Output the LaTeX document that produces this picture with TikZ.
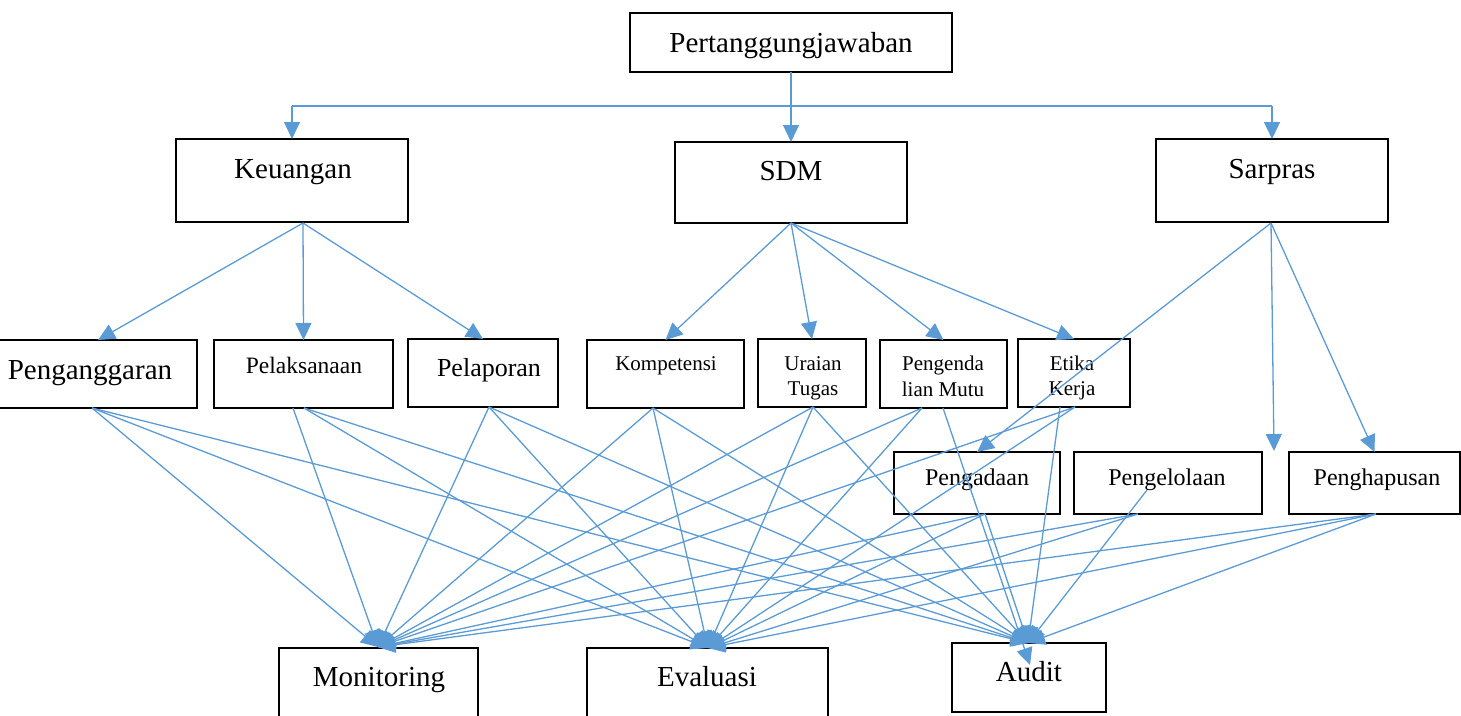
\documentclass[tikz,border=0pt]{standalone}
\usepackage{fontspec}
\setmainfont{Liberation Serif}
\usetikzlibrary{arrows.meta}
\definecolor{lineblue}{HTML}{5B9BD5}
\tikzset{
  box/.style={draw=black, line width=1.3pt, inner sep=0pt, outer sep=0pt, anchor=north west},
  conn/.style={draw=lineblue, line width=1.3pt},
  arr/.style={conn, -{Triangle[length=17pt,width=16pt]}},
  lab/.style={anchor=base, inner sep=0pt, text=black},
  big/.style={lab, font=\fontsize{29}{29}\selectfont},
  mid/.style={lab, font=\fontsize{24}{24}\selectfont},
  small/.style={lab, font=\fontsize{21}{21}\selectfont},
}
\begin{document}
\begin{tikzpicture}[x=1pt, y=-1pt]
\useasboundingbox (0,0) rectangle (1461,715);

% ---- boxes ----
\node[box, minimum width=322, minimum height=59] (ptj) at (630,13) {};
\node[box, minimum width=232, minimum height=83] (keu) at (176,139) {};
\node[box, minimum width=232, minimum height=81] (sdm) at (675,142) {};
\node[box, minimum width=232, minimum height=83] (sar) at (1156,139) {};

\node[box, minimum width=198, minimum height=68] (pang) at (-1,340) {};
\node[box, minimum width=179, minimum height=68] (pelk) at (214,340) {};
\node[box, minimum width=150, minimum height=68] (pelp) at (408,339) {};
\node[box, minimum width=157, minimum height=68] (komp) at (587,340) {};
\node[box, minimum width=108, minimum height=68] (urai) at (758,339) {};
\node[box, minimum width=127, minimum height=68] (peng) at (880,340) {};
\node[box, minimum width=112, minimum height=68] (etik) at (1018,339) {};

\node[box, minimum width=166, minimum height=62] (pgd) at (894,452) {};
\node[box, minimum width=188, minimum height=62] (pgl) at (1074,452) {};
\node[box, minimum width=171, minimum height=62] (phs) at (1289,452) {};

\node[box, minimum width=199, minimum height=80] (mon) at (279,648) {};
\node[box, minimum width=241, minimum height=80] (eva) at (587,648) {};
\node[box, minimum width=154, minimum height=69] (aud) at (952,643) {};

% ---- labels ----
\node[big] (t-ptj) at (791,52) {Pertanggungjawaban};
\node[big] (t-keu) at (293,178) {Keuangan};
\node[big] (t-sdm) at (791,180) {SDM};
\node[big] (t-sar) at (1272,178) {Sarpras};

\node[big] (t-pang) at (90,379) {Penganggaran};
\node[lab, font=\fontsize{23.5}{23.5}\selectfont] (t-pelk) at (304,373) {Pelaksanaan};
\node[lab, font=\fontsize{26}{26}\selectfont] (t-pelp) at (489,376) {Pelaporan};
\node[small] (t-komp) at (666,370) {Kompetensi};
\node[small] (t-urai1) at (813,370) {Uraian};
\node[small] (t-urai2) at (813,395) {Tugas};
\node[small] (t-peng1) at (943,370) {Pengenda};
\node[small] (t-peng2) at (943,396) {lian Mutu};
\node[small] (t-etik1) at (1072,370) {Etika};
\node[small] (t-etik2) at (1072,395) {Kerja};

\node[mid] (t-pgd) at (977,485) {Pengadaan};
\node[mid] (t-pgl) at (1167,485) {Pengelolaan};
\node[mid] (t-phs) at (1377,485) {Penghapusan};

\node[big] (t-mon) at (379,686) {Monitoring};
\node[big] (t-eva) at (707,686) {Evaluasi};
\node[big] (t-aud) at (1029,681) {Audit};

% ---- top level: distribution bus ----
\coordinate (busL) at (keu.north |- 0,106);
\coordinate (busR) at (sar.north |- 0,106);
\draw[conn] (busL) -- (busR);
\draw[arr] (ptj.south) -- (sdm.north);
\draw[arr] (busL) -- (keu.north);
\draw[arr] (busR) -- (sar.north);

% ---- second level ----
\coordinate (keu-o) at (303,223);
\coordinate (sdm-o) at (791,223);
\coordinate (sar-o) at (1271,223);
\coordinate (sar-drop) at (1274,451);

\draw[arr] (keu-o) -- (pang.north);
\draw[arr] (keu-o) -- (pelk.north);
\draw[arr] (keu-o) -- (pelp.north);

\draw[arr] (sdm-o) -- (komp.north);
\draw[arr] (sdm-o) -- (urai.north);
\draw[arr] (sdm-o) -- (peng.north);
\draw[arr] (sdm-o) -- (etik.north);

\draw[arr] (sar-o) -- (pgd.north);
\draw[arr] (sar-o) -- (sar-drop);
\draw[arr] (sar-o) -- (phs.north);

% ---- outlets of the activity boxes ----
\coordinate (pang-o) at (92,408);
\coordinate (pelk-o1) at (293,408);
\coordinate (pelk-o2) at (304,408);
\coordinate (pelp-o) at (489,407);
\coordinate (komp-o) at (653,408);
\coordinate (urai-o) at (813,407);
\coordinate (peng-o1) at (922,408);
\coordinate (peng-o2) at (943,408);
\coordinate (etik-o1) at (1075,407);
\coordinate (etik-o2) at (1060,407);
\coordinate (pgd-o) at (985,514);
\coordinate (pgl-o1) at (1138,514);
\coordinate (pgl-o2) at (1147,490);
\coordinate (phs-o) at (1376,514);

% ---- inlets of the control boxes ----
\coordinate (mon-in) at (378,647);
\coordinate (eva-in) at (708,648);
\coordinate (aud-in) at (1028,643);
\coordinate (aud-deep) at (1030,665);

% ---- into Monitoring ----
\foreach \s in {pang-o,pelk-o1,pelp-o,komp-o,urai-o,peng-o1,etik-o1,pgd-o,pgl-o1,phs-o}
  \draw[arr] (\s) -- (mon-in);

% ---- into Evaluasi ----
\foreach \s in {pang-o,pelk-o2,pelp-o,komp-o,urai-o,peng-o1,etik-o1,pgd-o,pgl-o1,phs-o}
  \draw[arr] (\s) -- (eva-in);

% ---- into Audit ----
\foreach \s in {pang-o,pelk-o2,pelp-o,komp-o,urai-o,etik-o2,pgd-o,pgl-o2,phs-o}
  \draw[arr] (\s) -- (aud-in);
\draw[arr] (peng-o2) -- (aud-deep);

\end{tikzpicture}
\end{document}
